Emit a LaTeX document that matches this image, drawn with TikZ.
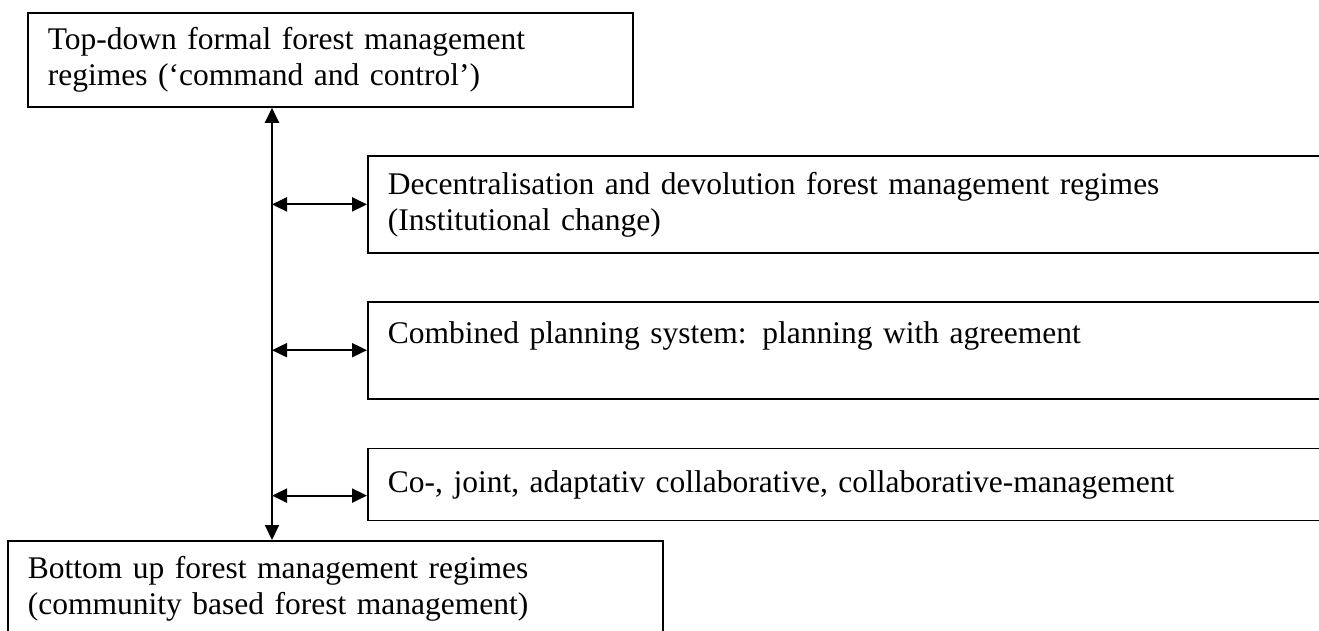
\documentclass[tikz,border=0pt]{standalone}
\usepackage{fontspec}
\setmainfont{Liberation Serif}
\usetikzlibrary{positioning,arrows.meta}

\tikzset{
  box/.style={draw, line width=0.9pt, rectangle, anchor=north west, align=left,
    inner xsep=10pt, inner ysep=0pt, font=\fontsize{15.75}{18}\selectfont},
  link/.style={{Triangle[length=7.5pt,width=7pt]}-{Triangle[length=7.5pt,width=7pt]}, line width=1pt}
}

\begin{document}
\begin{tikzpicture}[x=0.5pt,y=-0.5pt]
\clip (0,0) rectangle (1319,631);
\node[box, minimum width=302.5pt, minimum height=47pt, text width=282.5pt](top) at (27,12)
  {Top-down formal forest management\\regimes (‘command and control’)};
\node[box, minimum width=486.5pt, minimum height=48.5pt, text width=466.5pt](dec) at (367,155)
  {Decentralisation and devolution forest management regimes\\(Institutional change)};
\node[box, minimum width=486.5pt, minimum height=48.5pt, text width=466.5pt](comb)[below=23.5pt of dec.south west, anchor=north west]
  {Combined planning system: planning with agreement\\\mbox{}};
\node[box, minimum width=486.5pt, minimum height=36pt, text width=466.5pt](co)[below=24pt of comb.south west, anchor=north west]
  {Co-, joint, adaptativ collaborative, collaborative-management};
\node[box, minimum width=327.5pt, minimum height=47.5pt, text width=307.5pt](bot) at (7,540)
  {Bottom up forest management regimes\\(community based forest management)};

\coordinate (axis) at (272,0);
\coordinate (coin) at ([yshift=-24pt]co.north west);

\draw[link] (axis |- top.south) -- (axis |- bot.north);
\draw[link] (axis |- dec.west) -- (dec.west);
\draw[link] (axis |- comb.west) -- (comb.west);
\draw[link] (axis |- coin) -- (coin);
\end{tikzpicture}
\end{document}
